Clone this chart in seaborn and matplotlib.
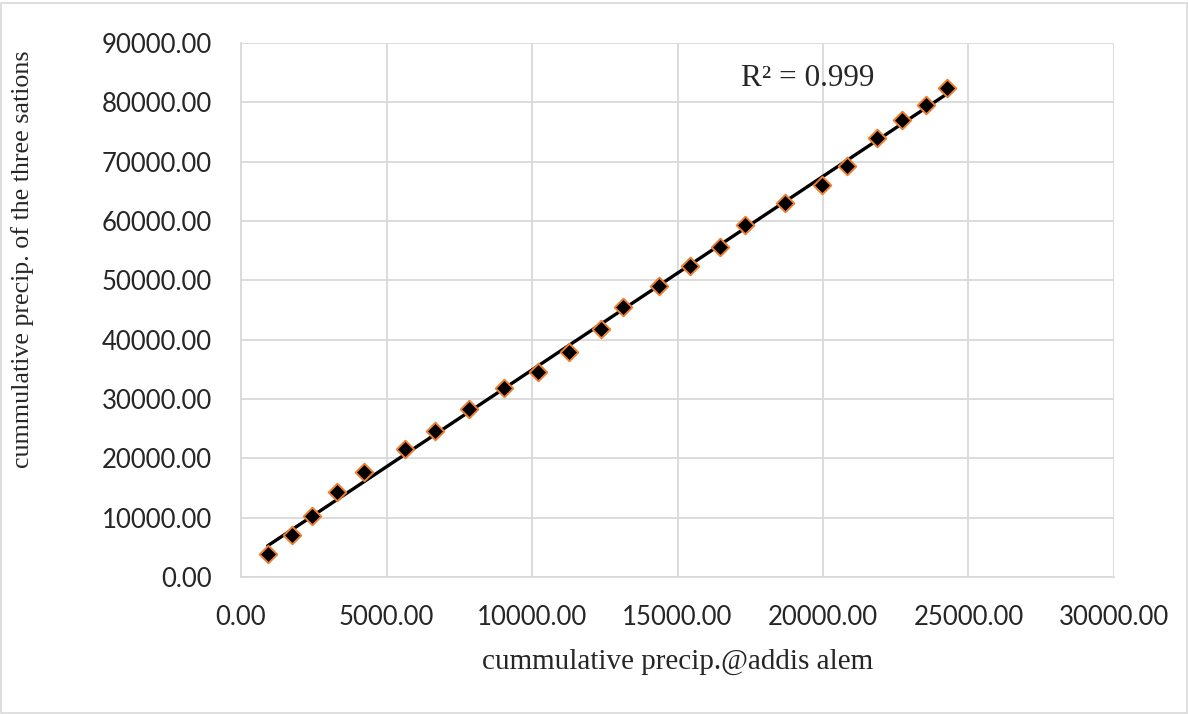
import numpy as np
import pandas as pd
import matplotlib
matplotlib.use("Agg")
import matplotlib.pyplot as plt
import seaborn as sns
from matplotlib.ticker import MultipleLocator, FormatStrFormatter

# cumulative precipitation (mm)
addis_alem = [917, 1742, 2430, 3309, 4227, 5636, 6667, 7845, 9048, 10196,
              11271, 12361, 13137, 14364, 15430, 16460, 17330, 18704, 19955,
              20814, 21866, 22704, 23529, 24251]
three_stations = [3877, 7079, 10281, 14377, 17647, 21574, 24659, 28266, 31805,
                  34603, 37974, 41750, 45457, 49048, 52419, 55570, 59329, 63088,
                  66071, 69274, 73943, 77027, 79555, 82370]

x_label = "cummulative precip.@addis alem"
y_label = "cummulative precip. of the three sations"
r2_text = "R² = 0.999"

df = pd.DataFrame({"x": addis_alem, "y": three_stations})

sns.set_style("white")
tick_font = ["Lato", "DejaVu Sans"]
serif_font = ["Liberation Serif", "DejaVu Serif"]

fig = plt.figure(figsize=(11.88, 7.14), dpi=100)
ax = fig.add_axes([0.2029, 0.1919, 0.7348, 0.7479])

grid_c = "#D9D9D9"
ax.grid(True, color=grid_c, linewidth=1.3)
ax.set_axisbelow(True)
for s in ["top", "right"]:
    ax.spines[s].set_visible(False)
for s in ["left", "bottom"]:
    ax.spines[s].set_color(grid_c)
    ax.spines[s].set_linewidth(1.3)

sns.regplot(data=df, x="x", y="y", ax=ax, ci=None, scatter=False,
            truncate=True, line_kws=dict(color="black", linewidth=2.4, zorder=2))
sns.scatterplot(data=df, x="x", y="y", ax=ax, marker="D", s=80,
                color="black", edgecolor="#ED7D31", linewidth=1.4, zorder=3)

ax.set_xlim(0, 30000)
ax.set_ylim(0, 90000)
ax.xaxis.set_major_locator(MultipleLocator(5000))
ax.yaxis.set_major_locator(MultipleLocator(10000))
ax.xaxis.set_major_formatter(FormatStrFormatter("%.2f"))
ax.yaxis.set_major_formatter(FormatStrFormatter("%.2f"))
ax.tick_params(length=0, labelsize=18.5)
ax.tick_params(axis="x", pad=20)
ax.tick_params(axis="y", pad=21)
for lab in ax.get_xticklabels() + ax.get_yticklabels():
    lab.set_family(tick_font)

ax.set_xlabel(x_label, fontsize=21, family=serif_font)
ax.set_ylabel(y_label, fontsize=18.7, family=serif_font)
ax.xaxis.set_label_coords(0.5, -0.135)
ax.yaxis.set_label_coords(-0.237, 0.5955)

ax.text(19467, 84000, r2_text, fontsize=22.5, family=serif_font,
        ha="center", va="center")

fig.patches.append(plt.Rectangle((0.001, 0.001), 0.998, 0.995, transform=fig.transFigure,
                                 fill=False, edgecolor=grid_c, linewidth=1.2))

fig.savefig("out.png", dpi=100)
